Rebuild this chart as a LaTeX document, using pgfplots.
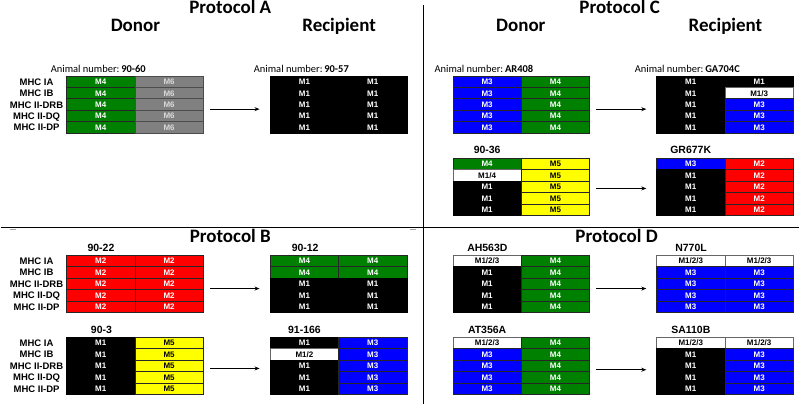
\documentclass[border=0pt]{standalone}
\usepackage{pgfplots}
\pgfplotsset{compat=1.18}
\usepackage{fontspec}
\setmainfont{Liberation Sans}
\newfontfamily\calfont{Carlito}
\usetikzlibrary{arrows.meta}
\definecolor{mgreen}{HTML}{008000}
\definecolor{mblue}{HTML}{0000FF}
\definecolor{mred}{HTML}{FF0000}
\definecolor{myellow}{HTML}{FFFF00}
\definecolor{mgray}{HTML}{808080}
\definecolor{mgtext}{HTML}{D9D9D9}
\tikzset{
 ctxt/.style={inner sep=0pt, text height=5.8pt, text depth=0pt, font=\fontsize{8}{8}\selectfont\bfseries},
 cB/.style={fill=black, draw=black, line width=0.8pt},
 cB text/.style={ctxt, text=white},
 cG/.style={fill=mgreen, draw=black!85, line width=0.8pt},
 cG text/.style={ctxt, text=white},
 cU/.style={fill=mblue, draw=black!85, line width=0.8pt},
 cU text/.style={ctxt, text=white},
 cR/.style={fill=mred, draw=black!85, line width=0.8pt},
 cR text/.style={ctxt, text=white},
 cY/.style={fill=myellow, draw=black!85, line width=0.8pt},
 cY text/.style={ctxt, text=black},
 cW/.style={fill=white, draw=black!60, line width=0.8pt},
 cW text/.style={ctxt, text=black},
 cK/.style={fill=mgray, draw=black!70, line width=0.8pt},
 cK text/.style={ctxt, text=mgtext},
 rlab/.style={font=\fontsize{9.5}{9.5}\selectfont\bfseries, inner sep=0pt, text height=6.8pt, text depth=0pt},
 tlab/.style={font=\fontsize{10.5}{10.5}\selectfont\bfseries, inner sep=0pt, anchor=base},
 anl/.style={font=\calfont\fontsize{10.5}{10.5}\selectfont, inner sep=0pt, anchor=base},
 ptitle/.style={font=\calfont\fontsize{19}{19}\selectfont\bfseries, inner sep=0pt, anchor=base},
 arr/.style={black, line width=1.2pt, -{Stealth[length=5pt,width=4pt]}},
}
% \cell{x0}{y0}{col}{row}{style}{text}
\newcommand{\cell}[6]{%
 \pgfmathsetmacro\xa{#1+#3*68.5}\pgfmathsetmacro\xb{\xa+68.5}%
 \pgfmathsetmacro\ya{#2+#4*11.5}\pgfmathsetmacro\yb{\ya+11.5}%
 \pgfmathsetmacro\xm{\xa+34.25}\pgfmathsetmacro\ym{\ya+5.75}%
 \edef\tmp{\noexpand\addplot[#5] coordinates {(\xa,\ya) (\xb,\ya) (\xb,\yb) (\xa,\yb)} -- cycle;
 \noexpand\node[#5 text] at (axis cs:\xm,\ym) {#6};}\tmp}
\newcommand{\row}[7]{\cell{#1}{#2}{0}{#3}{#4}{#5}\cell{#1}{#2}{1}{#3}{#6}{#7}}
\newcommand{\rowlabels}[1]{%
 \pgfmathsetmacro\ra{#1+5.75}\pgfmathsetmacro\rb{#1+17.25}\pgfmathsetmacro\rc{#1+28.75}%
 \pgfmathsetmacro\rd{#1+40.25}\pgfmathsetmacro\re{#1+51.75}%
 \edef\tmp{\noexpand\node[rlab] at (axis cs:36,\ra) {MHC IA};
 \noexpand\node[rlab] at (axis cs:36,\rb) {MHC IB};
 \noexpand\node[rlab] at (axis cs:36,\rc) {MHC II-DRB};
 \noexpand\node[rlab] at (axis cs:36,\rd) {MHC II-DQ};
 \noexpand\node[rlab] at (axis cs:36,\re) {MHC II-DP};}\tmp}
\begin{document}
\begin{tikzpicture}
\begin{axis}[scale only axis, width=800pt, height=405pt,
 xmin=0, xmax=800, ymin=0, ymax=405, y dir=reverse,
 axis lines=none, clip=false]
% dividers
\addplot[black, line width=1.3pt] coordinates {(0,227.5) (800,227.5)};
\addplot[black, line width=1.3pt] coordinates {(423.3,5) (423.3,405)};
\addplot[black!35, line width=0.8pt] coordinates {(9,229.8) (15,229.8)};
\addplot[black!35, line width=0.8pt] coordinates {(410,229.8) (416,229.8)};
% titles
\node[ptitle] at (axis cs:230,13.3) {Protocol A};
\node[ptitle] at (axis cs:620,13.3) {Protocol C};
\node[ptitle] at (axis cs:230,242.4) {Protocol B};
\node[ptitle] at (axis cs:617,242.6) {Protocol D};
\node[ptitle] at (axis cs:135,31.7) {Donor};
\node[ptitle] at (axis cs:339,31.7) {Recipient};
\node[ptitle] at (axis cs:521,31.7) {Donor};
\node[ptitle] at (axis cs:726,31.7) {Recipient};
% animal numbers
\node[anl] at (axis cs:97.8,72.7) {Animal number:\,\textbf{90-60}};
\node[anl] at (axis cs:301.2,72.7) {Animal number:\,\textbf{90-57}};
\node[anl] at (axis cs:484,72.7) {Animal number:\,\textbf{AR408}};
\node[anl] at (axis cs:687.8,72.7) {Animal number:\,\textbf{GA704C}};
\node[tlab] at (axis cs:487.3,154) {90-36};
\node[tlab] at (axis cs:691.2,154) {GR677K};
\node[tlab] at (axis cs:100.5,252.3) {90-22};
\node[tlab] at (axis cs:305,252.3) {90-12};
\node[tlab] at (axis cs:101,334) {90-3};
\node[tlab] at (axis cs:304.3,334) {91-166};
\node[tlab] at (axis cs:487.5,252.3) {AH563D};
\node[tlab] at (axis cs:691.5,252.3) {N770L};
\node[tlab] at (axis cs:487.3,334) {AT356A};
\node[tlab] at (axis cs:691.3,334) {SA110B};
% row labels
\rowlabels{76}
\rowlabels{255.7}
\rowlabels{337.7}
% Protocol A
\row{66}{76}{0}{cG}{M4}{cK}{M6}
\row{66}{76}{1}{cG}{M4}{cK}{M6}
\row{66}{76}{2}{cG}{M4}{cK}{M6}
\row{66}{76}{3}{cG}{M4}{cK}{M6}
\row{66}{76}{4}{cG}{M4}{cK}{M6}
\row{270}{76}{0}{cB}{M1}{cB}{M1}
\row{270}{76}{1}{cB}{M1}{cB}{M1}
\row{270}{76}{2}{cB}{M1}{cB}{M1}
\row{270}{76}{3}{cB}{M1}{cB}{M1}
\row{270}{76}{4}{cB}{M1}{cB}{M1}
% Protocol C
\row{453}{76}{0}{cU}{M3}{cG}{M4}
\row{453}{76}{1}{cU}{M3}{cG}{M4}
\row{453}{76}{2}{cU}{M3}{cG}{M4}
\row{453}{76}{3}{cU}{M3}{cG}{M4}
\row{453}{76}{4}{cU}{M3}{cG}{M4}
\row{657}{76}{0}{cB}{M1}{cB}{M1}
\row{657}{76}{1}{cB}{M1}{cW}{M1/3}
\row{657}{76}{2}{cB}{M1}{cU}{M3}
\row{657}{76}{3}{cB}{M1}{cU}{M3}
\row{657}{76}{4}{cB}{M1}{cU}{M3}
\row{453}{158.3}{0}{cG}{M4}{cY}{M5}
\row{453}{158.3}{1}{cW}{M1/4}{cY}{M5}
\row{453}{158.3}{2}{cB}{M1}{cY}{M5}
\row{453}{158.3}{3}{cB}{M1}{cY}{M5}
\row{453}{158.3}{4}{cB}{M1}{cY}{M5}
\row{657}{158.3}{0}{cU}{M3}{cR}{M2}
\row{657}{158.3}{1}{cB}{M1}{cR}{M2}
\row{657}{158.3}{2}{cB}{M1}{cR}{M2}
\row{657}{158.3}{3}{cB}{M1}{cR}{M2}
\row{657}{158.3}{4}{cB}{M1}{cR}{M2}
% Protocol B
\row{66}{255.7}{0}{cR}{M2}{cR}{M2}
\row{66}{255.7}{1}{cR}{M2}{cR}{M2}
\row{66}{255.7}{2}{cR}{M2}{cR}{M2}
\row{66}{255.7}{3}{cR}{M2}{cR}{M2}
\row{66}{255.7}{4}{cR}{M2}{cR}{M2}
\row{270}{255.7}{0}{cG}{M4}{cG}{M4}
\row{270}{255.7}{1}{cG}{M4}{cG}{M4}
\row{270}{255.7}{2}{cB}{M1}{cB}{M1}
\row{270}{255.7}{3}{cB}{M1}{cB}{M1}
\row{270}{255.7}{4}{cB}{M1}{cB}{M1}
\row{66}{337.7}{0}{cB}{M1}{cY}{M5}
\row{66}{337.7}{1}{cB}{M1}{cY}{M5}
\row{66}{337.7}{2}{cB}{M1}{cY}{M5}
\row{66}{337.7}{3}{cB}{M1}{cY}{M5}
\row{66}{337.7}{4}{cB}{M1}{cY}{M5}
\row{270}{337.7}{0}{cB}{M1}{cU}{M3}
\row{270}{337.7}{1}{cW}{M1/2}{cU}{M3}
\row{270}{337.7}{2}{cB}{M1}{cU}{M3}
\row{270}{337.7}{3}{cB}{M1}{cU}{M3}
\row{270}{337.7}{4}{cB}{M1}{cU}{M3}
% Protocol D
\row{453}{255.7}{0}{cW}{M1/2/3}{cG}{M4}
\row{453}{255.7}{1}{cB}{M1}{cG}{M4}
\row{453}{255.7}{2}{cB}{M1}{cG}{M4}
\row{453}{255.7}{3}{cB}{M1}{cG}{M4}
\row{453}{255.7}{4}{cB}{M1}{cG}{M4}
\row{657}{255.7}{0}{cW}{M1/2/3}{cW}{M1/2/3}
\row{657}{255.7}{1}{cU}{M3}{cU}{M3}
\row{657}{255.7}{2}{cU}{M3}{cU}{M3}
\row{657}{255.7}{3}{cU}{M3}{cU}{M3}
\row{657}{255.7}{4}{cU}{M3}{cU}{M3}
\row{453}{337.7}{0}{cW}{M1/2/3}{cG}{M4}
\row{453}{337.7}{1}{cU}{M3}{cG}{M4}
\row{453}{337.7}{2}{cU}{M3}{cG}{M4}
\row{453}{337.7}{3}{cU}{M3}{cG}{M4}
\row{453}{337.7}{4}{cU}{M3}{cG}{M4}
\row{657}{337.7}{0}{cW}{M1/2/3}{cW}{M1/2/3}
\row{657}{337.7}{1}{cB}{M1}{cU}{M3}
\row{657}{337.7}{2}{cB}{M1}{cU}{M3}
\row{657}{337.7}{3}{cB}{M1}{cU}{M3}
\row{657}{337.7}{4}{cB}{M1}{cU}{M3}
% arrows
\addplot[arr] coordinates {(210,109.3) (259.3,109.3)};
\addplot[arr] coordinates {(596.7,109.3) (646.7,109.3)};
\addplot[arr] coordinates {(596.7,188.7) (646.7,188.7)};
\addplot[arr] coordinates {(210,289) (259.3,289)};
\addplot[arr] coordinates {(210,369) (259.3,369)};
\addplot[arr] coordinates {(596.7,289) (646.7,289)};
\addplot[arr] coordinates {(596.7,370.3) (646.7,370.3)};
\end{axis}
\end{tikzpicture}
\end{document}
